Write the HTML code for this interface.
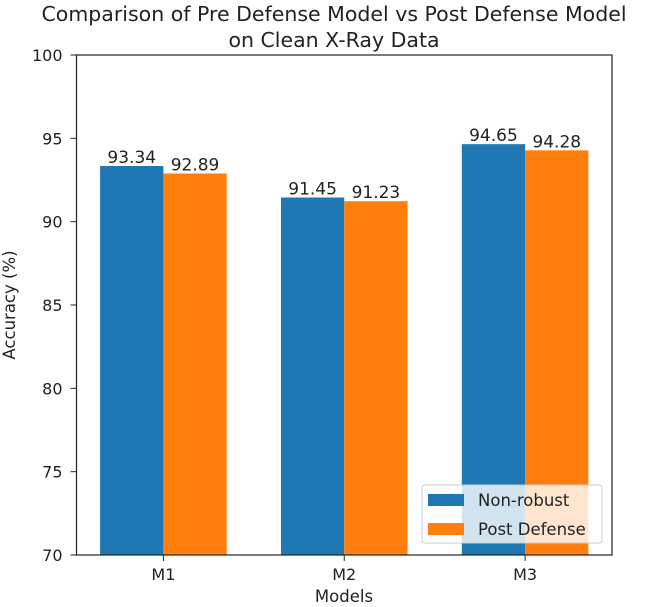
<!DOCTYPE html>
<html><head><meta charset="utf-8"><style>
body{margin:0;background:#fff;}
svg{display:block;font-family:"DejaVu Sans","Liberation Sans",sans-serif;}
</style></head><body>
<svg id="chart" width="646" height="607" viewBox="0 0 646 607" xmlns="http://www.w3.org/2000/svg">
<text x="334" y="21" font-size="20.5" text-anchor="middle" fill="#222">Comparison of Pre Defense Model vs Post Defense Model</text>
<text x="334" y="47" font-size="20.5" text-anchor="middle" fill="#222">on Clean X-Ray Data</text>
<g id="plot"></g>
<text x="344" y="602" font-size="16.5" text-anchor="middle" fill="#222">Models</text>
<text transform="translate(15,305) rotate(-90)" font-size="16.5" text-anchor="middle" fill="#222">Accuracy (%)</text>
</svg>
<script>
const categories = ["M1","M2","M3"];
const nonRobust = [93.34, 91.45, 94.65];
const postDefense = [92.89, 91.23, 94.28];
const yTicks = [70,75,80,85,90,95,100];
const seriesNames = ["Non-robust","Post Defense"];

const NS="http://www.w3.org/2000/svg";
const L=76.5,R=612,T=55,B=555,yMin=70,yMax=100,xMin=-0.4805,xMax=2.4805,bw=0.35;
const y=v=>B-(v-yMin)/(yMax-yMin)*(B-T);
const x=v=>L+(v-xMin)/(xMax-xMin)*(R-L);
const g=document.getElementById('plot');
function mk(t,a){const e=document.createElementNS(NS,t);for(const k in a)e.setAttribute(k,a[k]);g.appendChild(e);return e;}
const colors=["#1f77b4","#ff7f0e"];
[nonRobust,postDefense].forEach((s,si)=>{
  s.forEach((v,i)=>{
    const x0=x(i+(si===0?-bw:0)),x1=x(i+(si===0?0:bw));
    const r=mk('rect',{x:x0,y:y(v),width:x1-x0,height:B-y(v),fill:colors[si]});
    
    
    const t=mk('text',{x:(x0+x1)/2,y:y(v)-3,'font-size':17,'text-anchor':'middle',fill:'#222'});
    t.textContent=v.toFixed(2);
    
    
  });
});
yTicks.forEach(v=>{
  const l=mk('line',{x1:L-6,x2:L,y1:y(v),y2:y(v),stroke:'#222','stroke-width':1});
  
  
  const t=mk('text',{x:L-14,y:y(v)+6,'font-size':16,'text-anchor':'end',fill:'#222'});
  t.textContent=v;
  
  
});
categories.forEach((c,i)=>{
  const l=mk('line',{x1:x(i),x2:x(i),y1:B,y2:B+6,stroke:'#222','stroke-width':1});
  
  
  const t=mk('text',{x:x(i),y:B+25,'font-size':16,'text-anchor':'middle',fill:'#222'});
  t.textContent=c;
  
  
});
// legend
const lg=mk('rect',{x:422,y:485,width:180,height:58,rx:3,fill:'#fff','fill-opacity':0.8,stroke:'#ccc','stroke-width':1});


seriesNames.forEach((n,i)=>{
  const sw=mk('rect',{x:428,y:494+i*29,width:36,height:12,fill:colors[i]});
  
  
  const t=mk('text',{x:478,y:506+i*29,'font-size':16.5,fill:'#222'});
  t.textContent=n;
  
  
});
const fr=mk('rect',{x:L,y:T,width:R-L,height:B-T,fill:'none',stroke:'#222','stroke-width':1.2});


</script>
</body></html>
